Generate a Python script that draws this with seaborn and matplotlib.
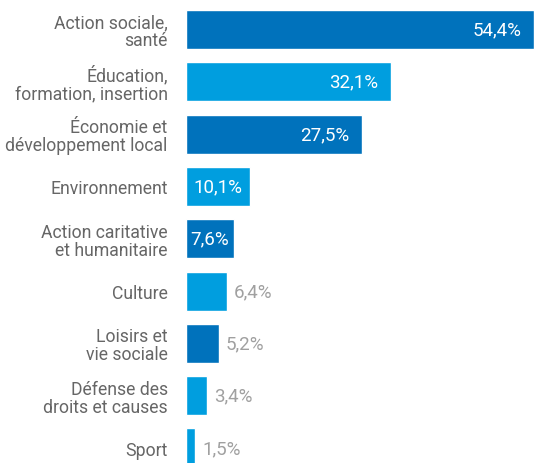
import matplotlib
matplotlib.use('Agg')
import matplotlib.pyplot as plt
import seaborn as sns
import pandas as pd

sns.set_theme(style="white")
plt.rcParams['font.family'] = ['Roboto', 'DejaVu Sans']

# données
categories = ["Action sociale,\nsanté", "Éducation,\nformation, insertion",
              "Économie et\ndéveloppement local", "Environnement",
              "Action caritative\net humanitaire", "Culture",
              "Loisirs et\nvie sociale", "Défense des\ndroits et causes", "Sport"]
values = [54.4, 32.1, 27.5, 10.1, 7.6, 6.4, 5.2, 3.4, 1.5]
labels = ["54,4%", "32,1%", "27,5%", "10,1%", "7,6%", "6,4%", "5,2%", "3,4%", "1,5%"]
dark = "#0072BC"
light = "#009EDF"
colors = [dark, light, dark, light, dark, light, dark, light, light]

df = pd.DataFrame({"cat": categories, "val": values})

fig = plt.figure(figsize=(5.43, 4.64), dpi=100)
ax = fig.add_axes([0.342, 0.0, 0.658, 1.0])
sns.barplot(data=df, x="val", y="cat", hue="cat", palette=colors,
            legend=False, width=0.746, saturation=1, ax=ax)

ax.set_xlim(0, 55.8)
ax.set_ylim(8.287, -0.583)
ax.set_xlabel("")
ax.set_ylabel("")
ax.set_xticks([])
for s in ax.spines.values():
    s.set_visible(False)
ax.tick_params(axis='y', length=0, pad=13)
for t in ax.get_yticklabels():
    t.set_fontsize(12.7)
    t.set_color("#666666")
    t.set_linespacing(1.0)
    t.set_ha("right")

fs = 13.5
for i, (v, lab) in enumerate(zip(values, labels)):
    if v >= 20:
        ax.annotate(lab, (v, i), xytext=(-9, 0), textcoords="offset points",
                    ha="right", va="center", color="white", fontsize=fs)
    elif v >= 7:
        ax.annotate(lab, (v / 2, i), ha="center", va="center", color="white",
                    fontsize=fs)
    else:
        ax.annotate(lab, (v, i), xytext=(5, 0), textcoords="offset points",
                    ha="left", va="center", color="#a0a0a0", fontsize=fs)

fig.savefig("out.png", dpi=100)
